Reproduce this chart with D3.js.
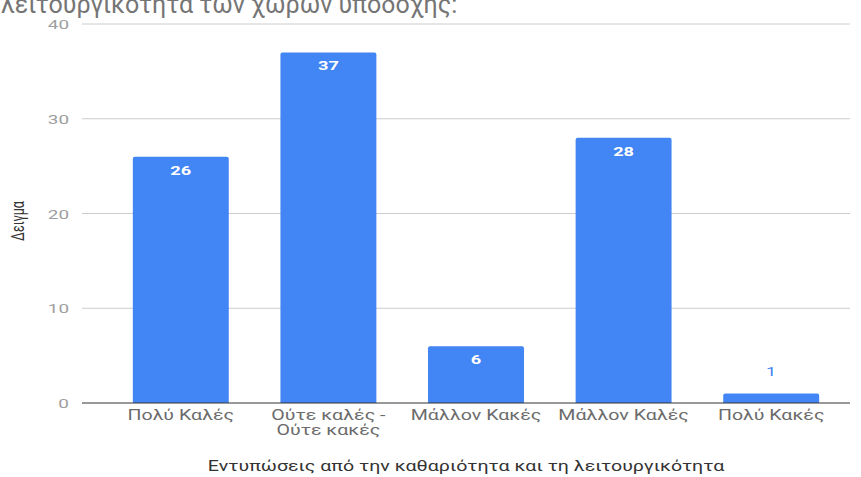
<!DOCTYPE html>
<html>
<head>
<meta charset="utf-8">
<script src="https://cdn.jsdelivr.net/npm/d3@7"></script>
<style>
  html, body { margin: 0; padding: 0; background: #fff; }
  svg { display: block; font-family: Roboto, "Noto Sans", sans-serif; }
</style>
</head>
<body>
<svg id="chart" width="861" height="477"></svg>
<script>
// Responses about cleanliness and functionality of the reception areas
const categories = ["Πολύ Καλές", "Ούτε καλές - Ούτε κακές", "Μάλλον Κακές", "Μάλλον Καλές", "Πολύ Κακές"];
const categoryLines = [["Πολύ Καλές"], ["Ούτε καλές -", "Ούτε κακές"], ["Μάλλον Κακές"], ["Μάλλον Καλές"], ["Πολύ Κακές"]];
const counts = [26, 37, 6, 28, 1];
const yTicks = [0, 10, 20, 30, 40];

const titleText = "λειτουργικότητα των χώρων υποδοχής:";
const xTitle = "Εντυπώσεις από την καθαριότητα και τη λειτουργικότητα";
const yTitle = "Δειγμα";

// horizontal stretch applied to the chart's small text
const SX = 1.4;

const svg = d3.select("#chart");

const x = d3.scaleBand().domain(categories).range([107, 845]).paddingInner(0.35).paddingOuter(0.175);
const y = d3.scaleLinear().domain([0, 40]).range([403, 24]);

const at = (px, py) => `translate(${px},${py}) scale(${SX},1)`;

// title (partially above the visible area)
svg.append("text")
  .attr("x", 1).attr("y", 13)
  .attr("font-size", 25)
  .attr("fill", "#757575")
  .text(titleText);

// gridlines
svg.append("g").selectAll("line").data(yTicks.filter(d => d !== 0)).join("line")
  .attr("x1", 82).attr("x2", 850)
  .attr("y1", d => y(d)).attr("y2", d => y(d))
  .attr("stroke", "#cccccc").attr("stroke-width", 1);

// y tick labels
svg.append("g").selectAll("text").data(yTicks).join("text")
  .attr("transform", d => at(69, y(d) + 5))
  .attr("text-anchor", "end")
  .attr("font-size", 13.5)
  .attr("fill", "#9e9e9e")
  .text(d => d);

// bars with slightly rounded tops
const bw = x.bandwidth(), r = 2;
svg.append("g").selectAll("path").data(categories).join("path")
  .attr("fill", "#4285f4")
  .attr("d", (c, i) => {
    const x0 = x(c), y0 = y(counts[i]), y1 = y(0);
    return `M${x0},${y1}V${y0 + r}Q${x0},${y0} ${x0 + r},${y0}H${x0 + bw - r}Q${x0 + bw},${y0} ${x0 + bw},${y0 + r}V${y1}Z`;
  });

// baseline
svg.append("line").attr("x1", 82).attr("x2", 850).attr("y1", y(0)).attr("y2", y(0))
  .attr("stroke", "#333").attr("stroke-width", 1);

// value labels: inside tall bars, above short ones
const inside = i => y(0) - y(counts[i]) > 25;
svg.append("g").selectAll("text").data(categories).join("text")
  .attr("transform", (c, i) => at(x(c) + bw / 2, inside(i) ? y(counts[i]) + 18 : y(counts[i]) - 18))
  .attr("text-anchor", "middle")
  .attr("font-size", 13)
  .attr("font-weight", (c, i) => (inside(i) ? "bold" : "normal"))
  .attr("fill", (c, i) => (inside(i) ? "#ffffff" : "#4285f4"))
  .text((c, i) => counts[i]);

// category labels
const xl = svg.append("g").selectAll("text").data(categories).join("text")
  .attr("transform", c => at(x(c) + bw / 2, 420))
  .attr("text-anchor", "middle")
  .attr("font-size", 14)
  .attr("fill", "#6b6b6b");
xl.each(function (c, i) {
  d3.select(this).selectAll("tspan").data(categoryLines[i]).join("tspan")
    .attr("x", 0)
    .attr("dy", (d, j) => (j === 0 ? 0 : 15))
    .text(d => d);
});

// axis titles
svg.append("text")
  .attr("transform", at(466, 471))
  .attr("text-anchor", "middle")
  .attr("font-size", 14)
  .attr("fill", "#333")
  .text(xTitle);

svg.append("text")
  .attr("transform", `translate(24,221) rotate(-90) scale(1,${SX})`)
  .attr("text-anchor", "middle")
  .attr("font-size", 12.5)
  .attr("fill", "#333")
  .text(yTitle);
</script>
</body>
</html>
